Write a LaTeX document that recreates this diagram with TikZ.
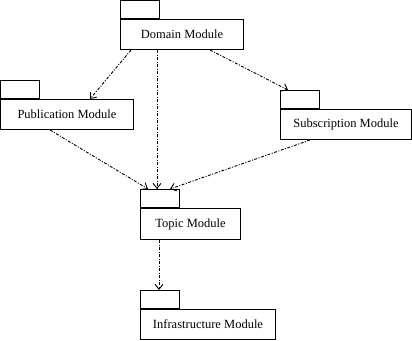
\documentclass[tikz,border=0pt]{standalone}
\usepackage{fontspec}
\setmainfont{Liberation Serif}
\usetikzlibrary{arrows.meta, positioning, calc}
\tikzset{every node/.style={font=\fontsize{12.5}{14}\selectfont}}
\colorlet{boxline}{black}
\colorlet{depcol}{black}
\tikzset{
  modbody/.style={draw=boxline, line width=1pt, minimum height=30pt, inner sep=0pt, anchor=north west},
  modtab/.style={draw=boxline, line width=1pt, minimum width=39pt, minimum height=18pt, inner sep=0pt, anchor=south west},
  dep/.style={->, depcol, line width=0.9pt, dash pattern=on 3pt off 1.5pt on 1pt off 1.5pt}
}

\begin{document}
\begin{tikzpicture}[x=1pt, y=-1pt, >={Straight Barb[length=5pt, width=8pt]}]
\useasboundingbox (0,0) rectangle (412,340);

% Domain
\node[modbody, minimum width=123pt] (domain) at (120,19) {Domain Module};
\node[modtab] (domaintab) at (domain.north west) {};

% Publication
\node[modbody, minimum width=133pt] (pub) at (0,99) {Publication Module};
\node[modtab] (pubtab) at (pub.north west) {};

% Subscription
\node[modbody, minimum width=131pt] (sub) at (280,109) {Subscription Module};
\node[modtab] (subtab) at (sub.north west) {};

% Topic
\node[modbody, minimum width=100pt, minimum height=31pt] (topic) at (140,208) {Topic Module};
\node[modtab] (topictab) at (topic.north west) {};

% Infrastructure
\node[modbody, minimum width=135pt] (infra) at (140,309) {Infrastructure Module};
\node[modtab] (infratab) at (infra.north west) {};

% Dependencies
\draw[dep] ($(domain.south west)+(11,0)$) -- ($(pub.north west)+(90,0)$);
\draw[dep] ($(domain.south west)+(37,0)$) -- ($(topictab.north west)+(17,0)$);
\draw[dep] ($(domain.south west)+(90,0)$) -- ($(subtab.north west)+(8,0)$);
\draw[dep] ($(pub.south west)+(50,0)$) -- ($(topictab.north west)+(8,0)$);
\draw[dep] ($(sub.south west)+(30,0)$) -- ($(topictab.north west)+(30,0)$);
\draw[dep] ($(topic.south west)+(19,0)$) -- ($(infratab.north west)+(19,0)$);

\end{tikzpicture}
\end{document}
